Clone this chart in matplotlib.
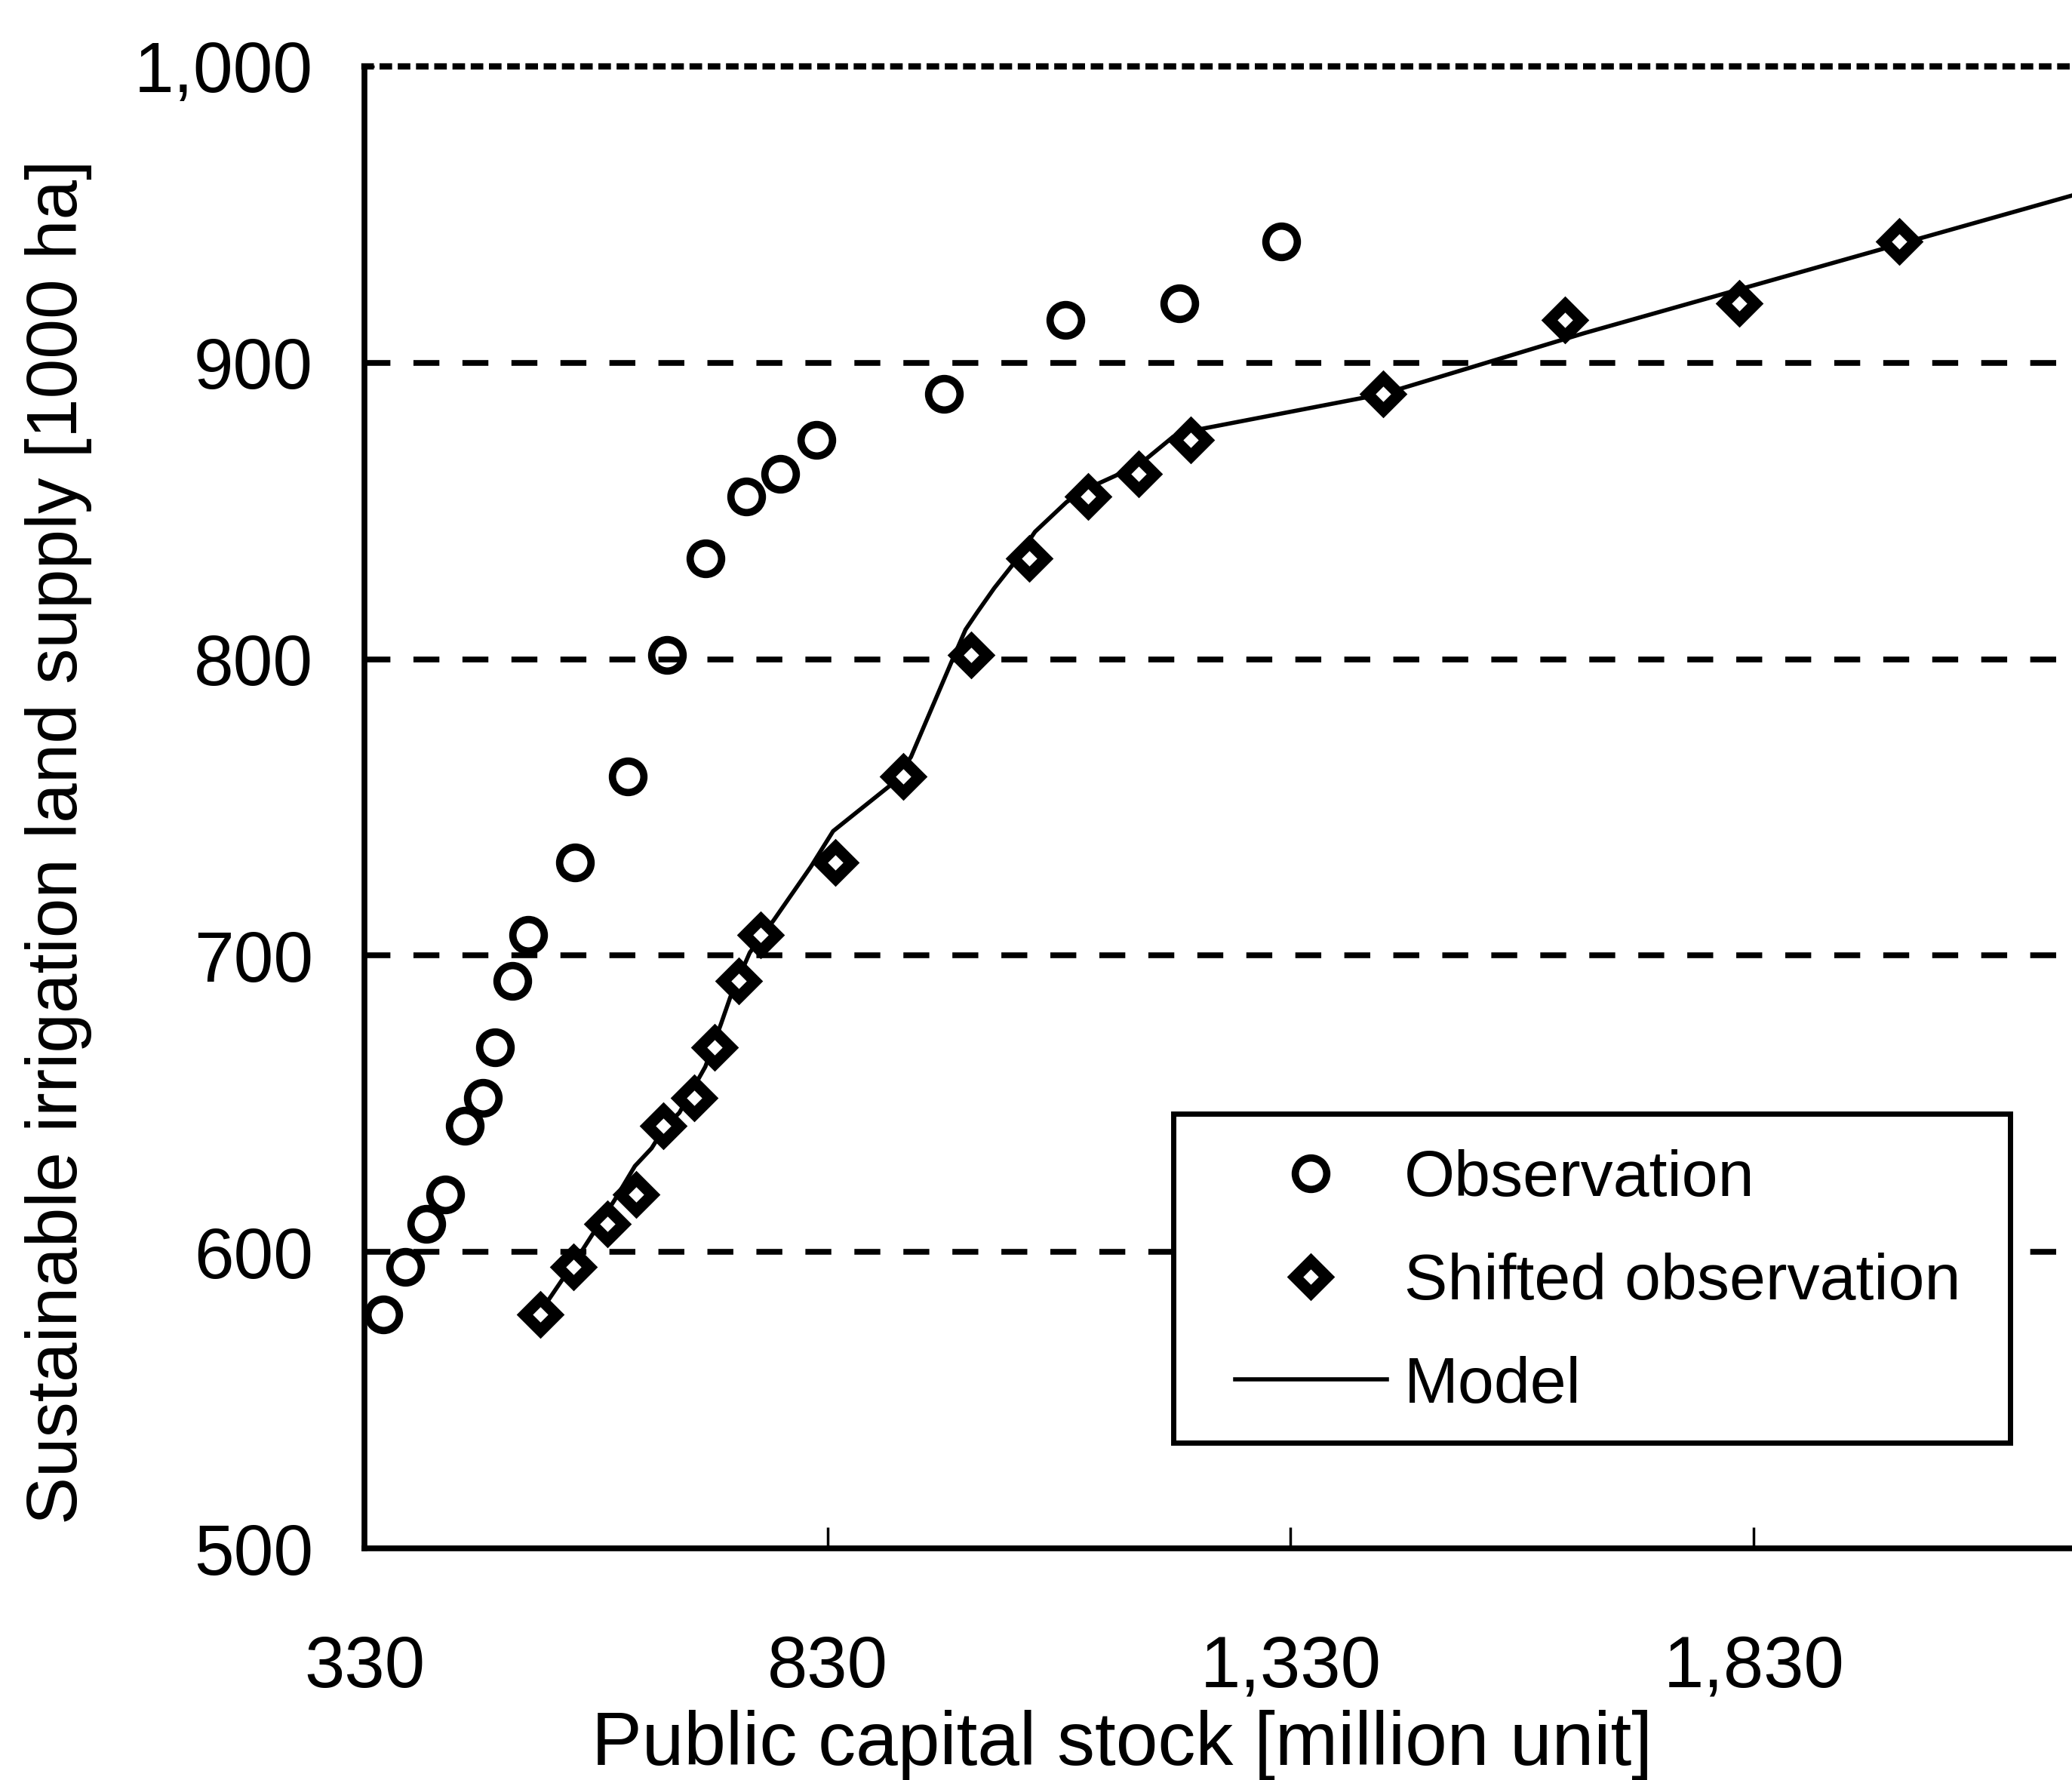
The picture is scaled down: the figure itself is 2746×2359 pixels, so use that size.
import matplotlib
matplotlib.use('Agg')
import matplotlib.pyplot as plt
import matplotlib.patches as patches
from matplotlib.lines import Line2D
from matplotlib.markers import MarkerStyle
from matplotlib.ticker import FuncFormatter

plt.rcParams['font.family'] = ['Liberation Sans', 'DejaVu Sans']

# observed points (public capital stock vs irrigation land supply)
obs_x = [350, 374, 397, 417, 438, 458, 471, 490, 507, 557,
         614, 657, 698, 742, 779, 818, 956, 1087, 1210, 1320]
# same supply values, shifted along capital stock
shift_x = [520, 556, 592, 623, 653, 686, 708, 734, 758, 838,
           912, 985, 1048, 1111, 1166, 1222, 1430, 1626, 1814, 1987]
supply_y = [579, 595, 609.5, 619.5, 642.5, 652, 669, 691.5, 707, 731.5,
            760.5, 801.5, 834, 855, 862.5, 874, 889.5, 914.5, 920, 941]

# model curve
model_x = [520, 528, 566, 600, 622, 640, 654, 670, 698, 715, 725, 746, 772,
           812, 836, 898, 920, 963, 979, 992, 1010, 1029, 1054, 1088, 1110,
           1166, 1203, 1222, 1430, 1647, 1987, 2180]
model_y = [578, 583.5, 601, 617.5, 629, 635, 642, 647, 662.5, 677, 686, 701,
           712, 730, 742, 757.5, 767, 798.5, 810, 816, 824, 831.5, 843, 853,
           857.5, 865.5, 875, 877, 889.5, 910, 940, 957]

x_ticks = [330, 830, 1330, 1830]
y_ticks = [500, 600, 700, 800, 900, 1000]
grid_levels = [600, 700, 800, 900]

circle_kw = dict(marker='o', markersize=30, markerfacecolor='none',
                 markeredgecolor='black', markeredgewidth=7)
diamond_kw = dict(marker=MarkerStyle('D', joinstyle='miter'), markersize=21,
                  markerfacecolor='white', markeredgecolor='black',
                  markeredgewidth=11)

fig = plt.figure(figsize=(27.46, 23.59), dpi=100)
ax = fig.add_axes([0.1759, 0.1301, 0.894, 0.8326])
ax.set_xlim(330, 2330)
ax.set_ylim(500, 1000)

# dashed horizontal grid
for lev in grid_levels:
    ax.axhline(lev, color='black', lw=5.5, linestyle=(0, (4.5, 4)), zorder=1)

ax.plot(model_x, model_y, color='black', lw=4, zorder=2,
        solid_joinstyle='round')
ax.plot(obs_x, supply_y, linestyle='none', zorder=3, **circle_kw)
ax.plot(shift_x, supply_y, linestyle='none', zorder=4, **diamond_kw)

# spines
ax.spines['right'].set_visible(False)
ax.spines['left'].set_linewidth(5.5)
ax.spines['bottom'].set_linewidth(5.5)
ax.spines['top'].set_linewidth(6)
ax.spines['top'].set_linestyle((0, (1, 1.9)))

fmt = FuncFormatter(lambda v, p: f'{int(v):,}')
ax.set_xticks(x_ticks)
ax.set_yticks(y_ticks)
ax.xaxis.set_major_formatter(fmt)
ax.yaxis.set_major_formatter(fmt)
ax.tick_params(axis='x', direction='in', length=20, width=2.5, pad=82,
               labelsize=69, top=False)
ax.tick_params(axis='y', direction='in', length=9, width=2.5, pad=49,
               labelsize=68, right=False)

ax.set_xlabel('Public capital stock [million unit]', fontsize=72)
ax.xaxis.set_label_coords(0.409, -0.109)
ax.set_ylabel('Sustainable irrigation land supply [1000 ha]', fontsize=68)
ax.yaxis.set_label_coords(-0.147, 0.4766)

# legend with a hand-placed square frame
frame = patches.Rectangle((0.5663, 0.1895), 0.4039, 0.1848,
                          transform=fig.transFigure, facecolor='white',
                          edgecolor='black', linewidth=5, zorder=4)
fig.patches.append(frame)

handles = [
    Line2D([], [], linestyle='none', **circle_kw),
    Line2D([], [], linestyle='none', **diamond_kw),
    Line2D([], [], color='black', lw=4),
]
labels = ['Observation', 'Shifted observation', 'Model']
leg = fig.legend(handles, labels, loc='upper left',
                 bbox_to_anchor=(0.5961, 0.3544), frameon=False,
                 fontsize=62, handlelength=2.33, handletextpad=0.27,
                 labelspacing=0.66, borderpad=0, borderaxespad=0)
leg.set_zorder(5)

fig.savefig('out.png', dpi=100)
